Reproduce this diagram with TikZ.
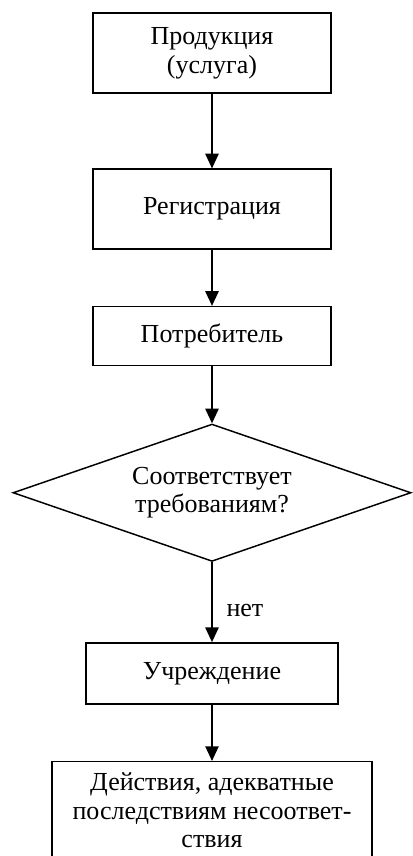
\documentclass[tikz,border=0pt]{standalone}
\usepackage{fontspec}
\setmainfont{Liberation Serif}
\usetikzlibrary{positioning, shapes.geometric, arrows.meta}
\tikzset{
    block/.style={draw, rectangle, line width=1.1pt, minimum width=178.5pt, align=center, inner sep=2pt},
    decision/.style={draw, diamond, line width=1.1pt, aspect=2.9, inner sep=0pt, minimum width=298.5pt, minimum height=103pt, align=center},
    flow/.style = {-{Triangle[width=10pt,length=11pt]}, line width=1.1pt},
    answer/.style = {} }

\begin{document}
\begin{tikzpicture}[node distance=42pt, font=\fontsize{19.5}{21.5}\selectfont]
			\useasboundingbox (-159pt,39.75pt) rectangle (150pt,-602.25pt);
			\node[block, minimum height=60pt] (prod) {Продукция\\(услуга)};
			\node[block, minimum height=60pt, below = 56pt of prod] (reg) {Регистрация};
			\node[block, minimum height=44pt, below = of reg] (cons) {Потребитель};
			\node[decision, below = 43pt of cons] (check) {Соответствует\\требованиям?};
			\node[block, minimum width=189pt, minimum height=46pt, below = 60pt of check] (inst) {Учреждение};
			\node[block, minimum width=240pt, minimum height=73pt, below = of inst] (act) {Действия, адекватные\\последствиям несоответ-\\ствия};
			% ----
			\draw[flow] (prod) -- (reg);
			\draw[flow] (reg) -- (cons);
			\draw[flow] (cons) -- (check);
			\draw[flow] (check) -- node[answer, pos=0.6, right=7pt] {нет} (inst);
			\draw[flow] (inst) -- (act);
		\end{tikzpicture}
\end{document}
